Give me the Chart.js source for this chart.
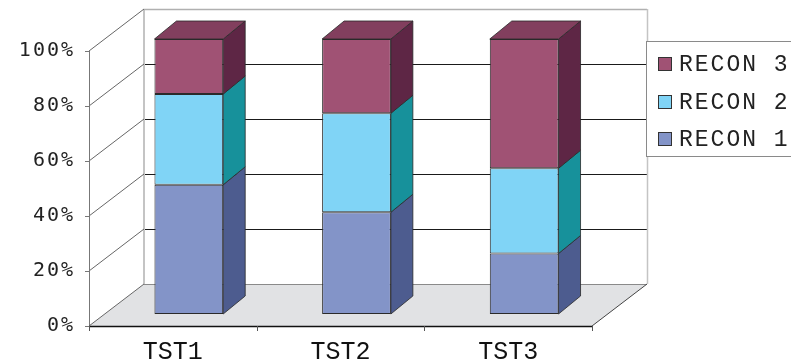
<!DOCTYPE html>
<html>
<head>
<meta charset="utf-8">
<script src="https://cdn.jsdelivr.net/npm/chart.js@4/dist/chart.umd.min.js"></script>
<style>
  html, body { margin: 0; padding: 0; background: #fff; overflow: hidden; }
  canvas { display: block; }
</style>
</head>
<body>
<canvas id="chart" width="791" height="362"></canvas>
<script>
// Share of each reconstruction per test (percent, stacked to 100)
const categories = ['TST1', 'TST2', 'TST3'];
const seriesNames = ['RECON 1', 'RECON 2', 'RECON 3'];
const recon1 = [47, 37, 22];
const recon2 = [33, 36, 31];
const recon3 = [20, 27, 47];
const yTickValues = [0, 20, 40, 60, 80, 100];

const faceColors = ['#8394C8', '#80D4F6', '#A05274'];
const sideColors = ['#4D5C8F', '#17919B', '#5E2645'];
const topColors  = ['#6A7AB0', '#4FBBD6', '#823F5E'];

const MONO = '"Courier New", Courier, "Nimbus Mono PS", FreeMono, "Liberation Mono"';

const WALL = { dx: 55, dy: -42 };      // depth of the box behind the axes
const BAR_SHIFT = { dx: 16, dy: -12 }; // bars sit part-way into the box
const BAR_DEPTH = { dx: 22, dy: -18 }; // thickness of each bar

function poly(ctx, pts, fill, stroke, lw) {
  ctx.beginPath();
  ctx.moveTo(pts[0][0], pts[0][1]);
  for (let i = 1; i < pts.length; i++) ctx.lineTo(pts[i][0], pts[i][1]);
  ctx.closePath();
  if (fill) { ctx.fillStyle = fill; ctx.fill(); }
  if (stroke) { ctx.strokeStyle = stroke; ctx.lineWidth = lw || 1; ctx.stroke(); }
}
function line(ctx, x1, y1, x2, y2, color, lw) {
  ctx.beginPath();
  ctx.moveTo(x1, y1);
  ctx.lineTo(x2, y2);
  ctx.strokeStyle = color;
  ctx.lineWidth = lw || 1;
  ctx.stroke();
}

const box3d = {
  id: 'box3d',
  beforeDraw(chart) {
    const s = chart.scales.y;
    if (!s._spacedLabels) {
      const orig = s.drawLabels;
      s.drawLabels = function (area) {
        const c = this.ctx;
        c.save();
        c.letterSpacing = '2px';
        orig.call(this, area);
        c.restore();
        c.letterSpacing = '0px';
      };
      s._spacedLabels = true;
    }
  },
  beforeDatasetsDraw(chart) {
    const ctx = chart.ctx;
    const { left: L, right: R, top: T, bottom: B } = chart.chartArea;
    const ys = chart.scales.y, xs = chart.scales.x;
    const dx = WALL.dx, dy = WALL.dy;
    ctx.save();
    ctx.letterSpacing = '0px';
    // floor
    poly(ctx, [[L, B], [R, B], [R + dx, B + dy], [L + dx, B + dy]], '#E1E2E4');
    // grid lines on the back wall
    yTickValues.forEach(v => {
      if (v === 0 || v === 100) return;
      const py = Math.round(ys.getPixelForValue(v) + dy) + 0.5;
      line(ctx, L + dx, py, R + dx, py, '#1a1a1a', 1);
    });
    // back wall frame
    line(ctx, L + dx, T + dy, L + dx, B + dy, '#c4c4c4', 2);
    line(ctx, L + dx, T + dy + 0.5, R + dx, T + dy + 0.5, '#b0b0b0', 1.5);
    line(ctx, R + dx + 0.5, T + dy, R + dx + 0.5, B + dy, '#c4c4c4', 1.5);
    line(ctx, L + dx, B + dy + 0.5, R + dx, B + dy + 0.5, '#8a8a8a', 1);
    // side wall lines running back from the value axis
    yTickValues.forEach(v => {
      const py = ys.getPixelForValue(v);
      line(ctx, L, py, L + dx, py + dy, '#666', 1);
    });
    // floor right edge
    line(ctx, R, B, R + dx, B + dy, '#444', 1);
    // value axis
    line(ctx, L + 0.5, T, L + 0.5, B, '#777', 1);
    yTickValues.forEach(v => {
      const py = Math.round(ys.getPixelForValue(v)) + 0.5;
      line(ctx, L - 4, py, L, py, '#777', 1);
    });
    // category axis
    line(ctx, L, B + 0.5, R, B + 0.5, '#111', 1.5);
    for (let i = 0; i <= categories.length; i++) {
      const px = Math.round(xs.getPixelForValue(i - 0.5)) + 0.5;
      line(ctx, px, B, px, B + 5, '#555', 1);
    }
    ctx.restore();
    // bars are drawn shifted into the box
    ctx.save();
    ctx.translate(BAR_SHIFT.dx, BAR_SHIFT.dy);
  },
  afterDatasetsDraw(chart) {
    const ctx = chart.ctx;
    const bx = BAR_DEPTH.dx, by = BAR_DEPTH.dy;
    const n = chart.data.datasets.length;
    chart.data.datasets.forEach((ds, di) => {
      const meta = chart.getDatasetMeta(di);
      meta.data.forEach(el => {
        const p = el.getProps(['x', 'y', 'base', 'width'], true);
        const xr = p.x + p.width / 2, xl = p.x - p.width / 2;
        poly(ctx, [[xr, p.y], [xr + bx, p.y + by], [xr + bx, p.base + by], [xr, p.base]],
             sideColors[di], '#2a2a2a', 0.8);
        if (di === n - 1) {
          poly(ctx, [[xl, p.y], [xr, p.y], [xr + bx, p.y + by], [xl + bx, p.y + by]],
               topColors[di], '#2a2a2a', 0.8);
        }
      });
    });
    ctx.restore();
  },
  afterDraw(chart) {
    // legend box, last series on top
    const ctx = chart.ctx;
    ctx.save();
    ctx.fillStyle = '#fff';
    ctx.fillRect(646.5, 41.5, 170, 115);
    ctx.strokeStyle = '#8a8a8a';
    ctx.lineWidth = 1;
    ctx.strokeRect(646.5, 41.5, 170, 115);
    ctx.font = '23px ' + MONO;
    ctx.letterSpacing = '2px';
    ctx.textBaseline = 'middle';
    ctx.textAlign = 'left';
    const ds = chart.data.datasets;
    for (let row = 0; row < ds.length; row++) {
      const k = ds.length - 1 - row;
      const cy = 64 + row * 37.5;
      ctx.fillStyle = faceColors[k];
      ctx.fillRect(658.5, Math.round(cy - 7) + 0.5, 13, 13);
      ctx.strokeStyle = '#333';
      ctx.strokeRect(658.5, Math.round(cy - 7) + 0.5, 13, 13);
      ctx.fillStyle = '#222';
      ctx.fillText(ds[k].label, 679, cy + 1);
    }
    ctx.letterSpacing = '0px';
    ctx.restore();
  }
};

const seriesValues = [recon1, recon2, recon3];

new Chart(document.getElementById('chart'), {
  type: 'bar',
  data: {
    labels: categories,
    datasets: seriesNames.map((name, i) => ({
      label: name,
      data: seriesValues[i],
      backgroundColor: faceColors[i],
      borderColor: '#2a2a2a',
      borderWidth: 1,
      borderSkipped: false,
      barPercentage: 0.41,
      categoryPercentage: 1,
      clip: false
    }))
  },
  options: {
    responsive: false,
    devicePixelRatio: 1,
    animation: false,
    layout: { padding: { left: 0, right: 199, top: 51, bottom: 0 } },
    plugins: { legend: { display: false }, tooltip: { enabled: false } },
    scales: {
      x: {
        stacked: true,
        grid: { display: false, drawTicks: false },
        border: { display: false },
        ticks: { color: '#111', padding: 11, font: { family: MONO, size: 25 } },
        afterFit(s) { s.height = 36; }
      },
      y: {
        stacked: true,
        min: 0,
        max: 100,
        grid: { display: false, drawTicks: false },
        border: { display: false },
        ticks: {
          stepSize: 20,
          color: '#222',
          padding: 14,
          font: { family: '"DejaVu Sans Mono"', size: 20 },
          callback: v => v + '%'
        },
        afterFit(s) { s.width = 89; }
      }
    }
  },
  plugins: [box3d]
});
</script>
</body>
</html>
